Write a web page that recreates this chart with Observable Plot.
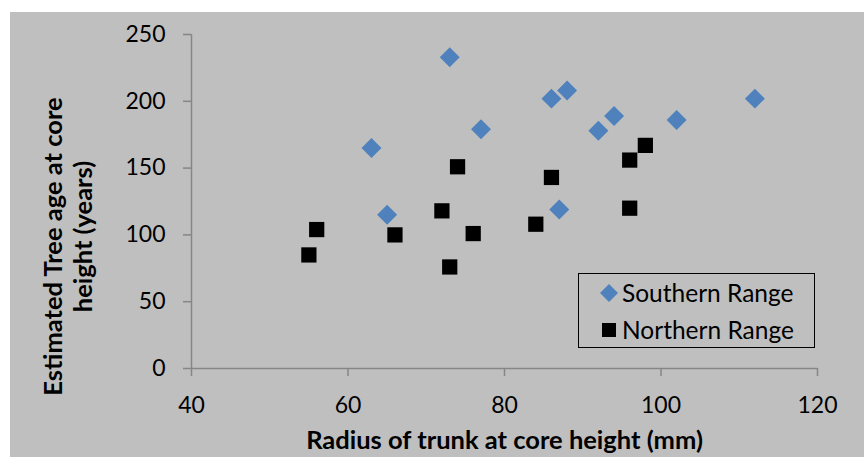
<!DOCTYPE html>
<html>
<head>
<meta charset="utf-8">
<script src="https://cdn.jsdelivr.net/npm/d3@7"></script>
<script src="https://cdn.jsdelivr.net/npm/@observablehq/plot@0.6"></script>
<style>
  html, body { margin: 0; padding: 0; background: #ffffff; }
  #page { position: relative; width: 864px; height: 457px; background: #ffffff; overflow: hidden; }
  #panel { position: absolute; left: 10px; top: 12px; width: 854px; height: 445px; background: #bfbfbf; }
  #panel svg { display: block; background: transparent; }
  #legend { position: absolute; left: 578px; top: 273px; width: 237px; height: 75px; box-sizing: border-box;
            border: 1.3px solid #000; font-family: Lato, "Noto Sans", sans-serif; font-size: 24.5px; color: #000; }
  .item { position: absolute; left: 0; height: 30px; width: 100%; }
  .item svg { position: absolute; left: 19px; top: 4px; }
  .item span { position: absolute; left: 43px; top: 0; line-height: 30px; white-space: nowrap; }
</style>
</head>
<body>
<div id="page">
  <div id="panel"></div>
  <div id="legend"></div>
</div>
<script>
// ---- data ----
const seriesNames = ["Southern Range", "Northern Range"];
const seriesColors = ["#4f81bd", "#000000"];
const southX = [73, 63, 65, 77, 86, 88, 87, 92, 94, 102, 112];
const southY = [233, 165, 115, 179, 202, 208, 119, 178, 189, 186, 202];
const northX = [55, 56, 66, 72, 74, 73, 76, 84, 86, 96, 98, 96];
const northY = [85, 104, 100, 118, 151, 76, 101, 108, 143, 156, 167, 120];
const xTicks = [40, 60, 80, 100, 120];
const yTicks = [0, 50, 100, 150, 200, 250];
const xTitle = "Radius of trunk at core height (mm)";
const yTitleLines = ["Estimated Tree age at core", "height (years)"];

const south = southX.map((x, i) => ({x, y: southY[i]}));
const north = northX.map((x, i) => ({x, y: northY[i]}));

const axisColor = "#868686";
const font = "Lato, 'Noto Sans', sans-serif";
const titleSize = 25.5;

const chart = Plot.plot({
  width: 854,
  height: 445,
  marginLeft: 181,
  marginRight: 47,
  marginTop: 22,
  marginBottom: 89,
  style: {fontFamily: font, background: "transparent", color: "#000"},
  x: {domain: [40, 120]},
  y: {domain: [0, 250]},
  marks: [
    Plot.axisY({ticks: yTicks, tickSize: 8, tickPadding: 18, stroke: axisColor, fill: "#000",
      fontSize: 23, label: null, tickFormat: d => String(d), strokeWidth: 1.5}),
    Plot.axisX({ticks: xTicks, tickSize: 8, tickPadding: 20, stroke: axisColor, fill: "#000",
      fontSize: 23, label: null, tickFormat: d => String(d), strokeWidth: 1.5}),
    Plot.ruleX([40], {stroke: axisColor, strokeWidth: 1.5}),
    Plot.ruleY([0], {stroke: axisColor, strokeWidth: 1.5}),
    Plot.dot(south, {x: "x", y: "y", symbol: "diamond2", r: 9, fill: seriesColors[0], stroke: "none"}),
    Plot.dot(north, {x: "x", y: "y", symbol: "square", r: 8.6, fill: seriesColors[1], stroke: "none"}),
    Plot.text([xTitle], {text: d => d, frameAnchor: "bottom", textAnchor: "middle", dy: 72, fontSize: titleSize,
      fontWeight: "bold", fill: "#000", lineAnchor: "middle"}),
    Plot.text([yTitleLines[0]], {text: d => d, frameAnchor: "left", textAnchor: "middle", rotate: -90, dx: -138, dy: 45,
      fontSize: titleSize, fontWeight: "bold", fill: "#000", lineAnchor: "middle"}),
    Plot.text([yTitleLines[1]], {text: d => d, frameAnchor: "left", textAnchor: "middle", rotate: -90, dx: -108, dy: 35,
      fontSize: titleSize, fontWeight: "bold", fill: "#000", lineAnchor: "middle"})
  ]
});
document.getElementById("panel").appendChild(chart);

// legend (HTML, inside the plot area)
const legend = d3.select("#legend");
seriesNames.forEach((name, i) => {
  const item = legend.append("div").attr("class", "item").style("top", (i === 0 ? 4 : 41) + "px");
  const s = item.append("svg").attr("width", 22).attr("height", 22);
  if (i === 0) {
    s.append("path").attr("d", "M11,2 L20,11 L11,20 L2,11 Z").attr("fill", seriesColors[i]);
  } else {
    s.append("rect").attr("x", 4).attr("y", 4).attr("width", 14).attr("height", 14).attr("fill", seriesColors[i]);
  }
  item.append("span").text(name);
});
</script>
</body>
</html>
